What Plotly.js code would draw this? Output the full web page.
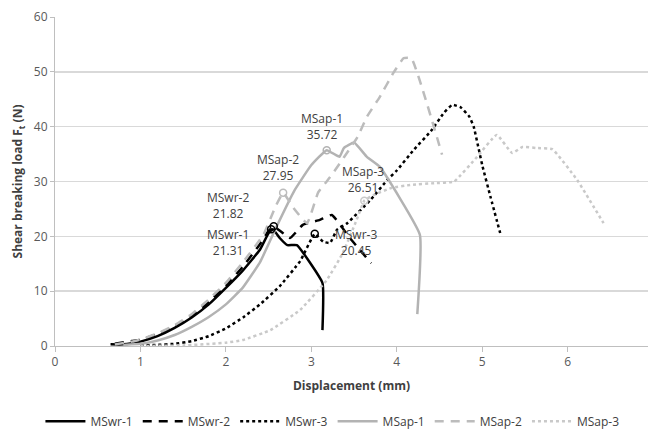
<!DOCTYPE html>
<html>
<head>
<meta charset="utf-8">
<script src="https://cdn.plot.ly/plotly-3.0.1.min.js"></script>
<style>html,body{margin:0;padding:0;background:#fff;}#chart{width:648px;height:429px;}</style>
</head>
<body>
<div id="chart"></div>
<script>
// Data (displacement mm, load N)
const mswr1X = [0.65,0.8,0.9,1.0,1.2,1.4,1.6,1.8,2.0,2.2,2.4,2.5,2.55,2.63,2.72,2.83,3.13,3.13];
const mswr1Y = [0.3,0.3,0.5,0.8,1.8,3.3,5.2,7.6,10.6,13.8,17.6,20.6,21.3,19.7,18.4,18.4,11.5,2.9];

const mswr2X = [0.7,0.9,1.0,1.2,1.4,1.6,1.8,2.0,2.2,2.4,2.5,2.56,2.75,2.9,3.1,3.24,3.45,3.7];
const mswr2Y = [0.4,0.9,1.1,2.2,3.6,5.5,8.0,11.0,14.5,18.6,21.0,21.82,19.7,22.1,23.0,23.9,19.7,15.1];

const mswr3X = [1.0,1.2,1.4,1.6,1.8,2.0,2.2,2.4,2.63,2.87,3.04,3.14,3.22,3.3,3.42,3.69,3.89,4.0,4.2,4.4,4.55,4.65,4.75,4.85,4.9,5.0,5.1,5.21];
const mswr3Y = [0.1,0.2,0.4,0.9,1.8,3.2,5.2,7.6,10.9,15.5,20.45,19.0,18.8,21.2,22.4,26.6,30.3,32.0,35.8,39.2,42.5,44.0,43.5,41.8,40.0,33.0,27.0,20.6];

const msap1X = [0.8,1.0,1.2,1.4,1.6,1.8,2.0,2.2,2.4,2.6,2.8,3.0,3.18,3.33,3.38,3.5,3.65,3.8,4.27,4.24];
const msap1Y = [0.2,0.4,1.0,2.0,3.5,5.3,7.6,10.7,15.3,22.0,28.3,33.0,35.72,34.5,36.1,37.1,34.5,32.7,20.3,5.8];

const msap2X = [0.7,0.9,1.0,1.2,1.4,1.6,1.8,2.0,2.2,2.44,2.58,2.67,2.79,2.95,3.08,3.22,3.54,3.65,3.8,3.96,4.08,4.17,4.53];
const msap2Y = [0.3,0.8,1.2,2.3,3.8,5.8,8.5,11.5,15.3,20.3,25.4,27.95,25.2,22.4,28.0,30.8,38.1,41.8,45.4,49.8,52.5,52.5,34.9];

const msap3X = [1.0,1.5,2.0,2.2,2.52,2.87,3.18,3.37,3.53,3.62,3.74,3.93,4.17,4.44,4.67,4.94,5.17,5.35,5.47,5.64,5.82,6.11,6.42];
const msap3Y = [0.0,0.1,0.6,1.1,2.9,6.6,12.0,17.0,23.0,26.51,27.6,28.8,29.4,29.7,30.0,34.5,38.5,35.2,36.3,36.1,35.9,30.3,22.4];

const peakNames = ["MSwr-1","MSwr-2","MSwr-3","MSap-1","MSap-2","MSap-3"];
const peakX = [2.53,2.56,3.04,3.18,2.67,3.62];
const peakY = [21.31,21.82,20.45,35.72,27.95,26.51];
const labelX = [2.03,2.03,3.52,3.13,2.61,3.61];
const labelY = [18.8,25.7,18.8,40.1,32.5,30.3];

const xTicks = [0,1,2,3,4,5,6];
const yTicks = [0,10,20,30,40,50,60];

const black = "#000000";
const grayA = "#b3b3b3";
const grayB = "#bcbcbc";
const grayC = "#c9c9c9";
const FONT = "Open Sans, Liberation Sans, sans-serif";

function ln(color, dash) {
  const o = {color: color, width: 2.5, shape: "spline", smoothing: 0.35};
  if (dash) o.dash = dash;
  return o;
}

const traces = [
  {x: mswr1X, y: mswr1Y, name: "MSwr-1", mode: "lines", line: ln(black)},
  {x: mswr2X, y: mswr2Y, name: "MSwr-2", mode: "lines", line: ln(black, "9px,7px")},
  {x: mswr3X, y: mswr3Y, name: "MSwr-3", mode: "lines", line: ln(black, "dot")},
  {x: msap1X, y: msap1Y, name: "MSap-1", mode: "lines", line: ln(grayA)},
  {x: msap2X, y: msap2Y, name: "MSap-2", mode: "lines", line: ln(grayB, "9px,7px")},
  {x: msap3X, y: msap3Y, name: "MSap-3", mode: "lines", line: ln(grayC, "dot")},
  {x: peakX, y: peakY, mode: "markers", showlegend: false, hoverinfo: "skip",
   marker: {symbol: "circle-open", size: 7,
            color: [black, black, black, grayA, grayB, grayC],
            line: {width: 1.5, color: [black, black, black, grayA, grayB, grayC]}}}
];

const annotations = peakNames.map((n, i) => ({
  x: labelX[i], y: labelY[i], xref: "x", yref: "y",
  text: n + "<br>" + peakY[i].toFixed(2),
  showarrow: false,
  font: {family: FONT, size: 12, color: "#404040"}
}));

const layout = {
  width: 648, height: 429,
  margin: {l: 55, r: 0, t: 17, b: 83},
  paper_bgcolor: "#ffffff",
  plot_bgcolor: "#ffffff",
  showlegend: true,
  legend: {orientation: "h", xref: "container", yref: "container",
           x: 0.513, xanchor: "center", y: 0.018, yanchor: "middle",
           font: {family: FONT, size: 12, color: "#404040"},
           itemwidth: 40, tracegroupgap: 0},
  xaxis: {
    range: [0, 6.94], tickvals: xTicks, ticktext: xTicks.map(String),
    showgrid: false, zeroline: false,
    showline: true, linecolor: "#bfbfbf", linewidth: 1,
    ticks: "outside", ticklen: 5, tickcolor: "#bfbfbf",
    tickfont: {family: FONT, size: 12, color: "#595959"},
    title: {text: "<b>Displacement (mm)</b>", standoff: 12,
            font: {family: FONT, size: 12, color: "#404040"}}
  },
  yaxis: {
    range: [0, 60], tickvals: yTicks, ticktext: yTicks.map(String),
    showgrid: true, gridcolor: "#d9d9d9", gridwidth: 1.5, zeroline: false,
    showline: true, linecolor: "#bfbfbf", linewidth: 1,
    ticks: "outside", ticklen: 4, tickcolor: "#bfbfbf",
    tickfont: {family: FONT, size: 12, color: "#595959"},
    title: {text: "<b>Shear breaking load F<sub>t</sub> (N)</b>", standoff: 8,
            font: {family: FONT, size: 12, color: "#404040"}}
  },
  annotations: annotations
};

Plotly.newPlot("chart", traces, layout, {displayModeBar: false, staticPlot: true});
</script>
</body>
</html>
